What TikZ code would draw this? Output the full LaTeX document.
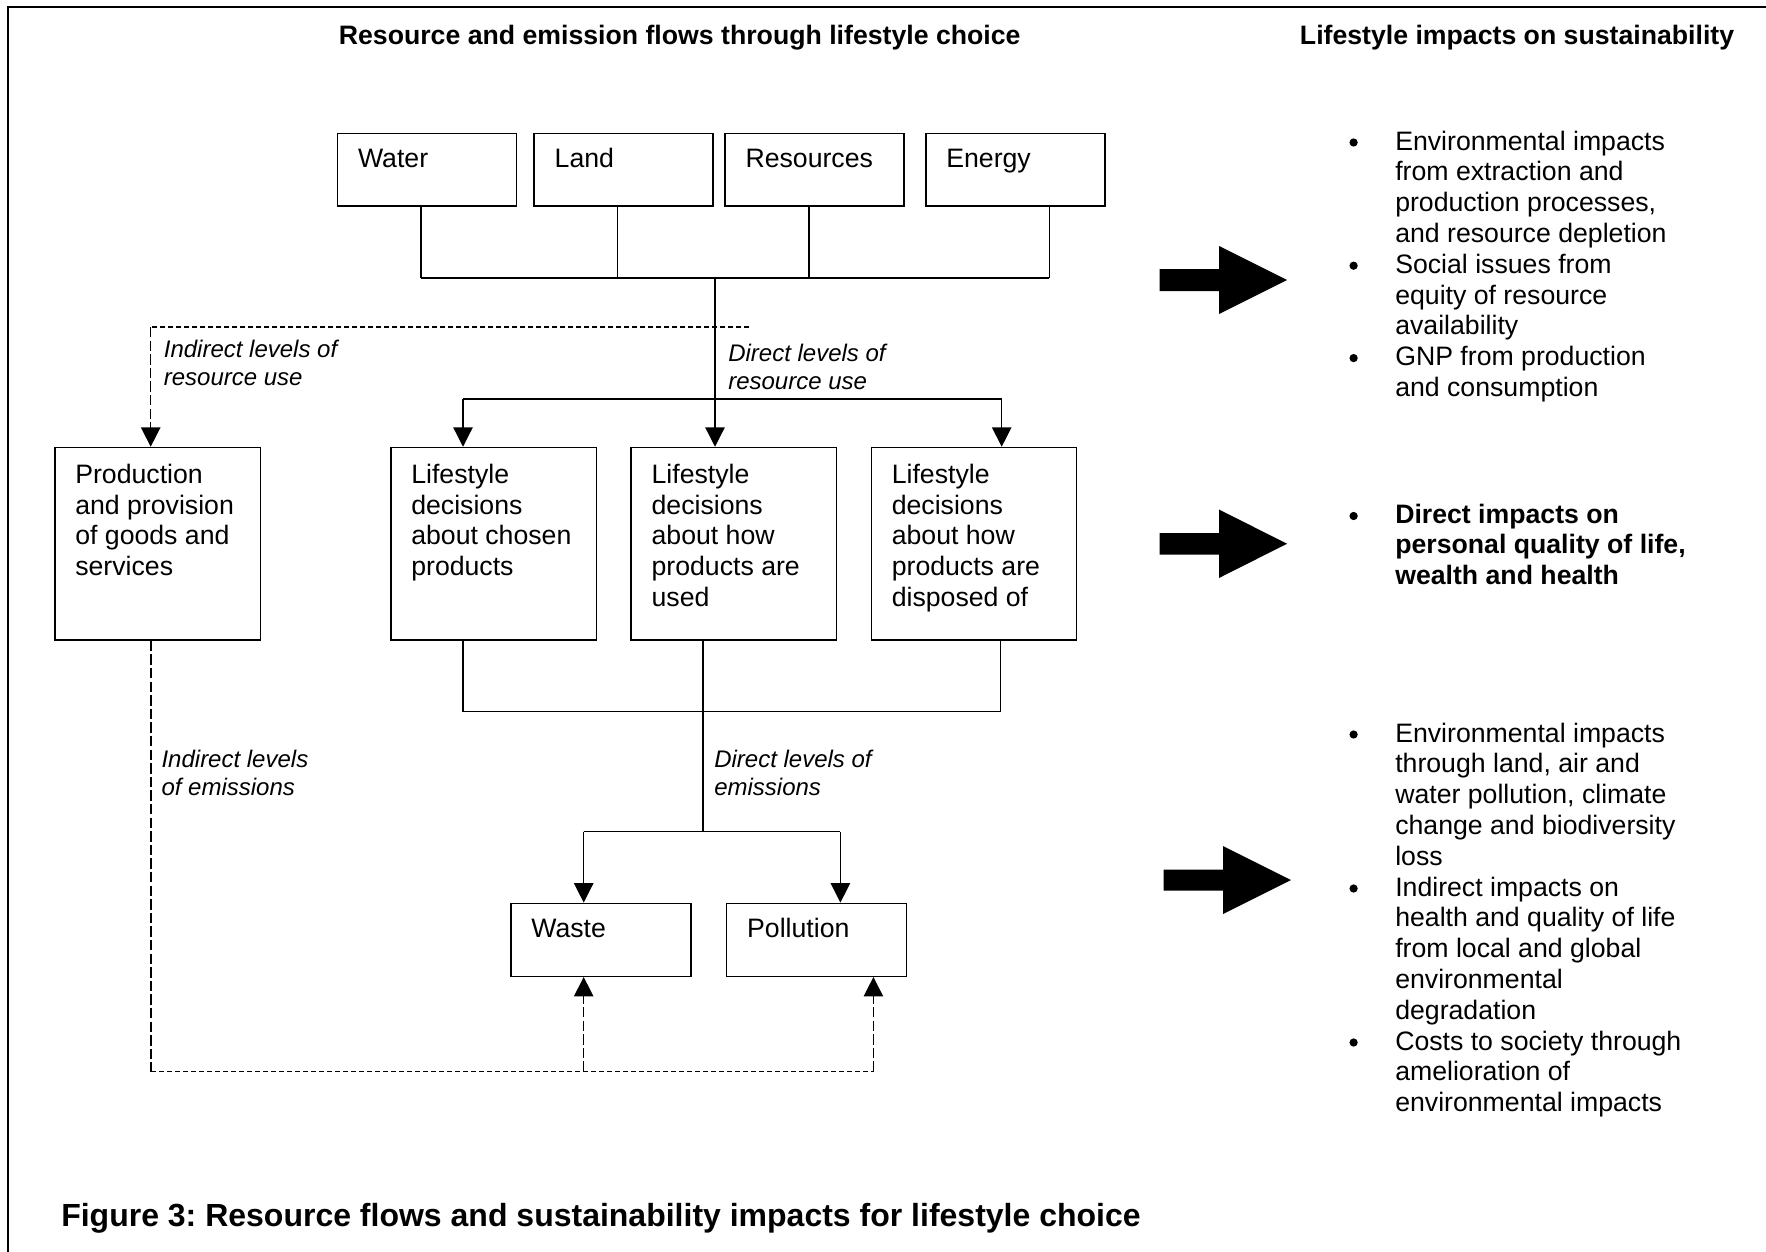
\documentclass[tikz,border=0pt]{standalone}
\usepackage{fontspec}
\setmainfont{Liberation Sans}
\frenchspacing
\usetikzlibrary{arrows.meta,calc}
\begin{document}
\begin{tikzpicture}[x=0.75pt,y=-0.75pt,
  box/.style={draw, line width=1.1pt, inner sep=0, minimum width=#1},
  topbox/.style={box=134.25pt, minimum height=54.4pt},
  midbox/.style={box=154.1pt, minimum height=144.4pt},
  lowbox/.style={box=135pt, minimum height=54.75pt},
  body/.style={font=\fontsize{20}{23.1}\selectfont, align=left, inner sep=0, anchor=base west},
  boldbody/.style={body, font=\fontsize{20}{23.1}\selectfont\bfseries},
  lab/.style={font=\fontsize{18}{21}\selectfont\itshape, align=left, inner sep=0, anchor=base west},
  ttl/.style={font=\fontsize{20}{23.1}\selectfont\bfseries, inner sep=0, anchor=base west},
  bul/.style={circle, fill=black, inner sep=0, minimum size=6.2pt},
  conn/.style={line width=0.95pt},
  dashh/.style={line width=1.1pt, dash pattern=on 3.9pt off 2.1pt},
  dashv/.style={line width=1.1pt, dash pattern=on 7.8pt off 2.4pt},
  tip/.style={-{Triangle[length=14.5pt,width=14.5pt]}},
  blockarrow/.style={fill=black}
]
\useasboundingbox (0,0) rectangle (1766,1252);
% frame
\draw[line width=1.5pt] (8,1252) -- (8,7) -- (1766,7);

% titles
\node[ttl] (t1) at (338.6,45) {Resource and emission flows through lifestyle choice};
\node[ttl] (t2) at (1299.7,45) {Lifestyle impacts on sustainability};

% top boxes
\node[topbox] (w) at (427,169.75) {};
\node[topbox] (l) at (623.7,169.75) {};
\node[topbox] (r) at (814.5,169.75) {};
\node[topbox] (e) at (1015.3,169.75) {};
\node[body] (wt) at ($(w.north west)+(21,34.5)$) {Water};
\node[body] (lt) at ($(l.north west)+(21,34.5)$) {Land};
\node[body] (rt) at ($(r.north west)+(21,34.5)$) {Resources};
\node[body] (et) at ($(e.north west)+(21,34.5)$) {Energy};

% middle boxes (base anchor = baseline of last line)
\node[midbox] (m1) at (157.5,543.75) {};
\node[midbox] (m2) at (493.5,543.75) {};
\node[midbox] (m3) at (733.8,543.75) {};
\node[midbox] (m4) at (974,543.75) {};
\node[body] (m1t) at ($(m1.north west)+(21,129)$) {Production\\and provision\\of goods and\\services};
\node[body] (m2t) at ($(m2.north west)+(21,129)$) {Lifestyle\\decisions\\about chosen\\products};
\node[body] (m3t) at ($(m3.north west)+(21,159.8)$) {Lifestyle\\decisions\\about how\\products are\\used};
\node[body] (m4t) at ($(m4.north west)+(21,159.8)$) {Lifestyle\\decisions\\about how\\products are\\disposed of};

% lower boxes
\node[lowbox] (wa) at (600.85,939.8) {};
\node[lowbox] (po) at (816.6,939.8) {};
\node[body] (wat) at ($(wa.north west)+(21,35)$) {Waste};
\node[body] (pot) at ($(po.north west)+(21,35)$) {Pollution};

% top connectors
\coordinate (wb) at (421,278);
\coordinate (lb) at (617.6,278);
\coordinate (rb) at (809,278);
\coordinate (eb) at (1049.3,278);
\draw[conn] (w.south -| wb) -- (wb);
\draw[conn] (l.south -| lb) -- (lb);
\draw[conn] (r.south -| rb) -- (rb);
\draw[conn] (e.south -| eb) -- (eb);
\draw[conn] (wb) -- (eb);
\coordinate (c1) at (715,278);
\draw[conn,tip] (c1) -- (c1 |- m3.north);
\coordinate (b2) at (463,399);
\coordinate (b4) at (1001.7,399);
\draw[conn] (b2) -- (b4);
\draw[conn,tip] (b2) -- (b2 |- m2.north);
\draw[conn,tip] (b4) -- (b4 |- m4.north);

% indirect resource use (dashed)
\coordinate (d1) at (150.7,327);
\coordinate (d2) at (749,327);
\draw[dashh] (d2) -- (d1);
\draw[dashv,tip] (d1) -- (d1 |- m1.north);

% labels (2 lines, base = second line)
\node[lab] (la1) at (163.6,385.5) {Indirect levels of\\resource use};
\node[lab] (la2) at (728,389) {Direct levels of\\resource use};
\node[lab] (la3) at (161.3,795.5) {Indirect levels\\of emissions};
\node[lab] (la4) at (714,795.5) {Direct levels of\\emissions};

% lower connectors
\coordinate (e2) at (463,711.7);
\coordinate (e3) at (703,711.7);
\coordinate (e4) at (1000.4,711.7);
\draw[conn] (m2.south -| e2) -- (e2) -- (e4) -- (m4.south -| e4);
\coordinate (s1) at (583.7,831.7);
\coordinate (s2) at (840.4,831.7);
\draw[conn] (m3.south -| e3) -- (e3 |- s1);
\draw[conn] (s1) -- (s2);
\draw[conn,tip] (s1) -- (s1 |- wa.north);
\draw[conn,tip] (s2) -- (s2 |- po.north);

% indirect emissions (dashed)
\coordinate (f1) at (150.8,1071.7);
\coordinate (f2) at (583.7,1071.7);
\coordinate (f3) at (873.4,1071.7);
\draw[dashv] (m1.south -| f1) -- (f1);
\draw[dashh] (f1) -- (f3);
\draw[dashv,tip] (f2) -- (f2 |- wa.south);
\draw[dashv,tip] (f3) -- (f3 |- po.south);

% block arrows
\fill[blockarrow] (1159.5,269) -- (1219,269) -- (1219,246) -- (1287,280) -- (1219,314) -- (1219,291) -- (1159.5,291) -- cycle;
\fill[blockarrow] (1159.5,533) -- (1219,533) -- (1219,509.5) -- (1287,543.75) -- (1219,578) -- (1219,554.5) -- (1159.5,554.5) -- cycle;
\fill[blockarrow] (1163.7,869.6) -- (1223,869.6) -- (1223,846) -- (1291,880) -- (1223,914) -- (1223,890.6) -- (1163.7,890.6) -- cycle;

% right text group 1
\node[bul] (g1a) at (1353.6,142.5) {};
\node[body] (g1at) at (1395,242.4) {Environmental impacts\\from extraction and\\production processes,\\and resource depletion};
\node[bul] (g1b) at (1353.6,265.7) {};
\node[body] (g1bt) at (1395,334.8) {Social issues from\\equity of resource\\availability};
\node[bul] (g1c) at (1353.6,358.1) {};
\node[body] (g1ct) at (1395,396.4) {GNP from production\\and consumption};

% group 2
\node[bul] (g2a) at (1353.6,516) {};
\node[boldbody] (g2at) at (1395,584.6) {Direct impacts on\\personal quality of life,\\wealth and health};

% group 3
\node[bul] (g3a) at (1353.6,734.5) {};
\node[body] (g3at) at (1395,865.2) {Environmental impacts\\through land, air and\\water pollution, climate\\change and biodiversity\\loss};
\node[bul] (g3b) at (1353.6,888.5) {};
\node[body] (g3bt) at (1395,1019.2) {Indirect impacts on\\health and quality of life\\from local and global\\environmental\\degradation};
\node[bul] (g3c) at (1353.6,1042.5) {};
\node[body] (g3ct) at (1395,1111.6) {Costs to society through\\amelioration of\\environmental impacts};

% caption
\node[inner sep=0, anchor=base west, font=\fontsize{24}{28}\selectfont\bfseries] (cap) at (61,1226) {Figure 3: Resource flows and sustainability impacts for lifestyle choice};
\end{tikzpicture}
\end{document}
